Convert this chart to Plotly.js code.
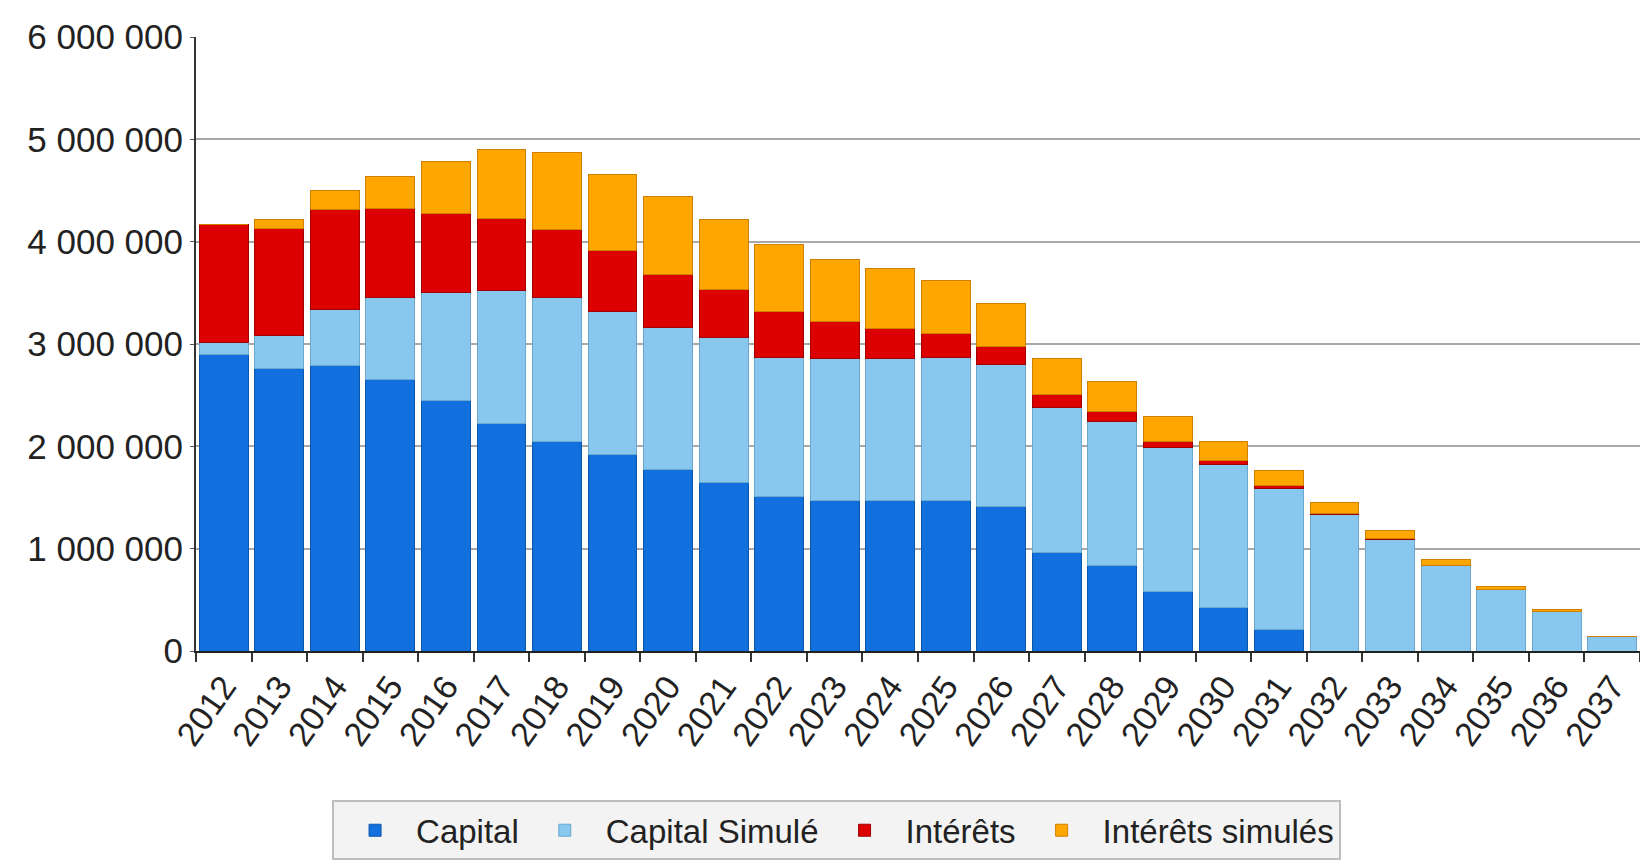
<!DOCTYPE html>
<html>
<head>
<meta charset="utf-8">
<script src="https://cdn.plot.ly/plotly-3.0.1.min.js"></script>
<style>html,body{margin:0;padding:0;background:#fff;}#chart{width:1640px;height:865px;}</style>
</head>
<body>
<div id="chart"></div>
<script>
var years = ["2012","2013","2014","2015","2016","2017","2018","2019","2020","2021","2022","2023","2024","2025","2026","2027","2028","2029","2030","2031","2032","2033","2034","2035","2036","2037"];
var capital = [2900000,2760000,2790000,2650000,2450000,2220000,2050000,1920000,1770000,1650000,1510000,1470000,1470000,1470000,1410000,960000,840000,580000,430000,210000,0,0,0,0,0,0];
var capitalSimule = [110000,320000,550000,800000,1050000,1300000,1400000,1400000,1390000,1410000,1360000,1390000,1390000,1400000,1390000,1420000,1400000,1410000,1390000,1380000,1330000,1090000,840000,600000,390000,140000];
var interets = [1160000,1050000,970000,870000,780000,710000,670000,590000,520000,470000,450000,360000,290000,230000,180000,130000,100000,60000,40000,30000,12000,8000,0,0,0,0];
var interetsSimules = [0,90000,190000,320000,500000,670000,750000,750000,760000,690000,650000,610000,590000,520000,420000,350000,290000,240000,190000,140000,110000,80000,50000,30000,15000,6000];
var seriesNames = ["Capital","Capital Simulé","Intérêts","Intérêts simulés"];
var yTickVals = [0,1000000,2000000,3000000,4000000,5000000,6000000];
var yTickText = ["0","1 000 000","2 000 000","3 000 000","4 000 000","5 000 000","6 000 000"];

var colors = ["#1170dd","#88c8ee","#dc0000","#ffa600"];
var lineColors = ["#0b55aa","#6aa8cc","#a00000","#d08000"];
var vals = [capital, capitalSimule, interets, interetsSimules];

var data = vals.map(function(v,i){
  return {type:"bar", name:seriesNames[i], x:years, y:v,
    marker:{color:colors[i], line:{color:lineColors[i], width:1}},
    hoverinfo:"x+y+name"};
});

var layout = {
  width:1640, height:865,
  barmode:"stack", bargap:0.12,
  paper_bgcolor:"#ffffff", plot_bgcolor:"#ffffff",
  margin:{l:196, r:0, t:37, b:214},
  font:{family:"Liberation Sans, Arial, sans-serif", color:"#222"},
  xaxis:{type:"category", tickson:"boundaries", ticks:"outside", ticklen:9, tickwidth:2, tickcolor:"#333",
    showline:true, linecolor:"#222", linewidth:2, tickangle:-55,
    tickfont:{size:34, color:"#222"}, showgrid:false},
  yaxis:{range:[0,6000000], tickvals:yTickVals, ticktext:yTickText, ticks:"outside", ticklen:4, tickcolor:"#555",
    showline:true, linecolor:"#333", linewidth:2, gridcolor:"#a8a8a8", gridwidth:2,
    tickfont:{size:35, color:"#222"}, zeroline:false},
  showlegend:true,
  legend:{orientation:"h", x:0.4436, xanchor:"center", y:-0.292, yanchor:"middle",
    bgcolor:"#f3f3f3", bordercolor:"#bdbdbd", borderwidth:2, itemwidth:72,
    font:{size:33, color:"#222"}, traceorder:"normal"}
};
Plotly.newPlot("chart", data, layout, {displayModeBar:false, staticPlot:true});
</script>
</body>
</html>
